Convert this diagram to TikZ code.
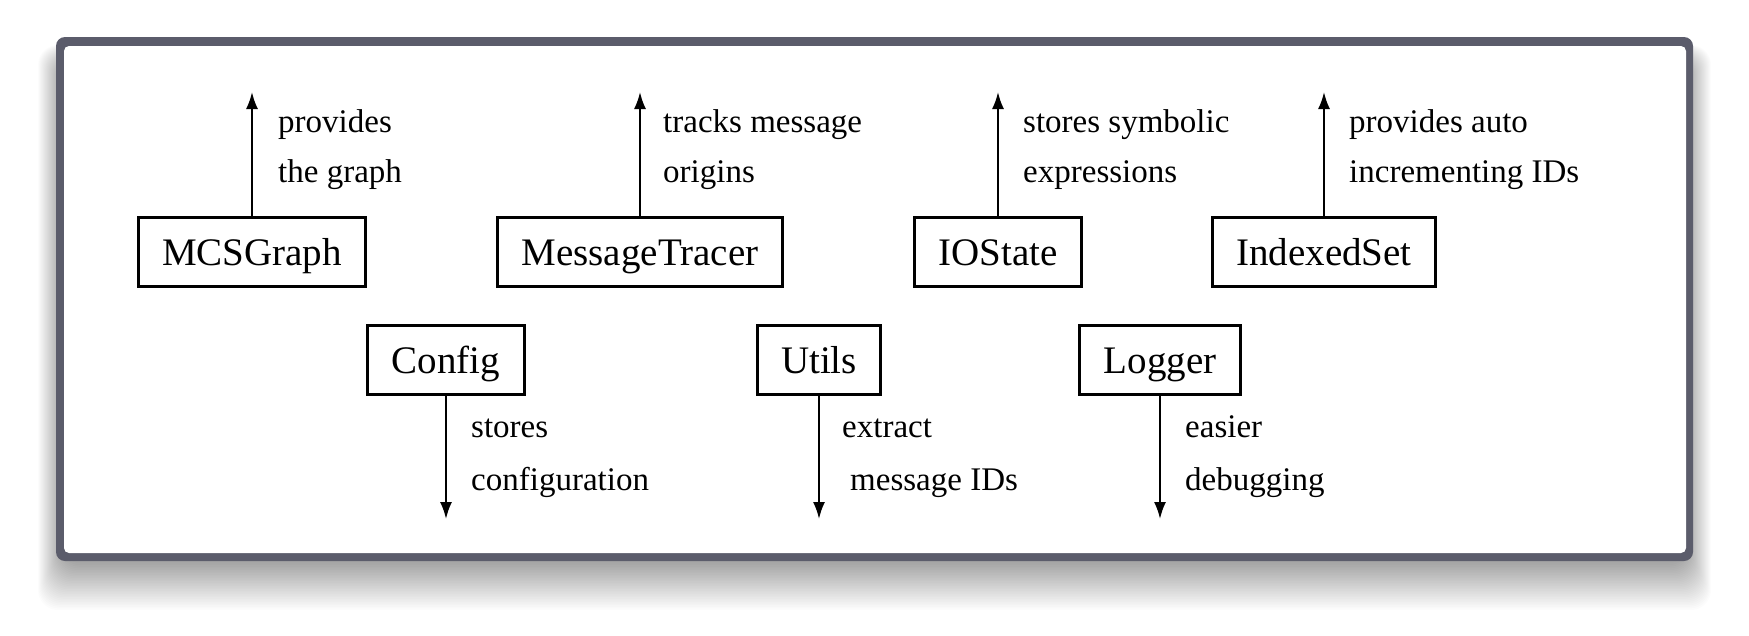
\documentclass[tikz,border=0pt]{standalone}
\usepackage{fontspec}
\setmainfont{Liberation Serif}
\usetikzlibrary{arrows.meta}

\definecolor{framegray}{HTML}{5B5C6B}

\tikzset{
  modbox/.style={draw, line width=3pt, fill=white,
    font=\fontsize{39}{44}\selectfont, inner xsep=24pt,
    minimum height=69pt, text height=26pt, text depth=0pt},
  note/.style={anchor=base west, inner sep=0pt,
    font=\fontsize{33}{38}\selectfont},
  link/.style={line width=2pt, -{Latex[length=17pt,width=12pt]}},
}

\begin{document}
\begin{tikzpicture}[x=1pt,y=-1pt]
    % canvas, shadow and window frame
    \fill[white] (0,0) rectangle (1749,635);
    \useasboundingbox (0,0) rectangle (1749,635);
    \foreach \r in {1,...,30}
        \fill[black, opacity=0.012, rounded corners=20pt]
            (62-0.8*\r,60-0.5*\r) rectangle (1687+0.8*\r,562+1.6*\r);
    \fill[framegray, rounded corners=9pt] (56,37) rectangle (1693,561);
    \fill[white, rounded corners=5pt] (64,46) rectangle (1686,553);

    % modules, top row
    \node[modbox] (mcs) at (252,252) {MCSGraph};
    \node[modbox] (tracer) at (640,252) {MessageTracer};
    \node[modbox] (iostate) at (998,252) {IOState};
    \node[modbox] (indexed) at (1324,252) {IndexedSet};
    % modules, bottom row
    \node[modbox] (config) at (446,360) {Config};
    \node[modbox] (utils) at (819,360) {Utils};
    \node[modbox] (logger) at (1160,360) {Logger};

    % arrow ends
    \coordinate (mcstip) at (mcs.north |- 0,92);
    \coordinate (tracertip) at (tracer.north |- 0,92);
    \coordinate (iostatetip) at (iostate.north |- 0,92);
    \coordinate (indexedtip) at (indexed.north |- 0,92);
    \coordinate (configtip) at (config.south |- 0,519);
    \coordinate (utilstip) at (utils.south |- 0,519);
    \coordinate (loggertip) at (logger.south |- 0,519);

    \draw[link] (mcs.north) -- (mcstip);
    \draw[link] (tracer.north) -- (tracertip);
    \draw[link] (iostate.north) -- (iostatetip);
    \draw[link] (indexed.north) -- (indexedtip);
    \draw[link] (config.south) -- (configtip);
    \draw[link] (utils.south) -- (utilstip);
    \draw[link] (logger.south) -- (loggertip);

    % notes
    \node[note] (mcsa) at (278,132) {provides};
    \node[note] (mcsb) at (278,182) {the graph};
    \node[note] (tracera) at (663,132) {tracks message};
    \node[note] (tracerb) at (663,182) {origins};
    \node[note] (iostatea) at (1023,132) {stores symbolic};
    \node[note] (iostateb) at (1023,182) {expressions};
    \node[note] (indexeda) at (1349,132) {provides auto};
    \node[note] (indexedb) at (1349,182) {incrementing IDs};
    \node[note] (configa) at (471,437) {stores};
    \node[note] (configb) at (471,490) {configuration};
    \node[note] (utilsa) at (842,437) {extract};
    \node[note] (utilsb) at (850,490) {message IDs};
    \node[note] (loggera) at (1185,437) {easier};
    \node[note] (loggerb) at (1185,490) {debugging};
\end{tikzpicture}
\end{document}
